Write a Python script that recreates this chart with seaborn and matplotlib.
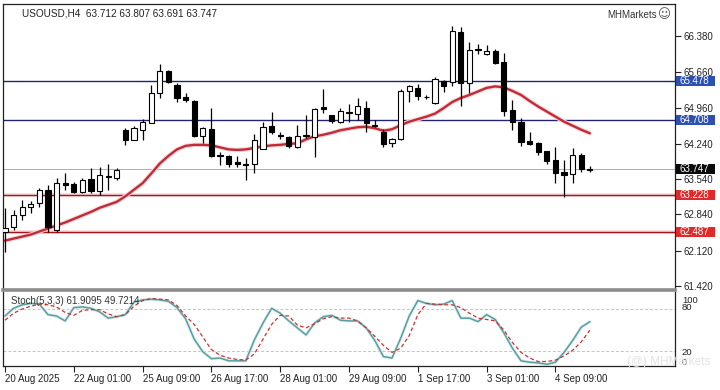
import numpy as np
import pandas as pd
import matplotlib
matplotlib.use("Agg")
import matplotlib.pyplot as plt
import matplotlib.transforms as mtransforms
from matplotlib.patches import Rectangle
import seaborn as sns

# ---------------- data ----------------
opens = [62.49, 62.59, 62.83, 62.98, 63.07, 63.33, 62.53, 63.46, 63.44, 63.29,
         63.54, 63.31, 63.59, 63.56, 64.51, 64.32, 64.51, 64.66, 65.24, 65.69,
         65.41, 65.16, 65.10, 64.40, 64.53, 64.02, 63.99, 63.87, 63.84, 63.84,
         64.13, 64.59, 64.42, 64.38, 64.18, 64.40, 64.37, 64.97, 64.81, 64.68,
         64.85, 64.83, 64.96, 64.60, 64.48, 64.25, 64.33, 65.28, 65.34, 65.17,
         65.06, 65.49, 65.47, 66.45, 65.45, 66.13, 66.02, 66.09, 65.86, 64.91,
         64.68, 64.30, 64.25, 64.09, 63.92, 63.68, 63.64, 64.02, 63.712]
highs = [62.97, 62.93, 63.13, 63.11, 63.36, 63.42, 63.56, 63.66, 63.49, 63.56,
         63.76, 63.79, 63.85, 63.77, 64.55, 64.59, 64.73, 65.41, 65.82, 65.71,
         65.44, 65.24, 65.11, 64.58, 64.95, 64.08, 64.02, 64.00, 63.95, 64.44,
         64.68, 64.88, 64.48, 64.40, 64.61, 64.81, 64.95, 65.32, 64.81, 64.95,
         65.03, 65.14, 65.09, 64.71, 64.53, 64.35, 65.32, 65.41, 65.43, 65.21,
         65.57, 65.50, 66.57, 66.55, 66.27, 66.22, 66.20, 66.12, 66.04, 65.11,
         64.75, 64.48, 64.27, 64.10, 64.18, 63.91, 64.15, 64.06, 63.807]
lows = [62.10, 62.53, 62.73, 62.86, 62.99, 62.50, 62.50, 63.33, 63.26, 63.27,
        63.26, 63.23, 63.33, 63.52, 64.22, 64.32, 64.32, 64.66, 65.14, 65.44,
        65.08, 65.08, 64.37, 64.25, 63.98, 63.82, 63.79, 63.79, 63.52, 63.66,
        64.13, 64.44, 64.33, 64.15, 64.15, 64.35, 63.98, 64.86, 64.66, 64.65,
        64.68, 64.71, 64.48, 64.57, 64.18, 64.18, 64.32, 65.08, 65.12, 65.13,
        65.04, 65.27, 65.39, 64.99, 65.24, 66.02, 66.01, 65.82, 64.79, 64.51,
        64.20, 64.22, 64.02, 63.84, 63.47, 63.19, 63.46, 63.69, 63.691]
closes = [62.57, 62.83, 62.99, 63.05, 63.33, 62.60, 63.46, 63.43, 63.29, 63.52,
          63.31, 63.62, 63.61, 63.72, 64.32, 64.55, 64.68, 65.24, 65.69, 65.47,
          65.14, 65.12, 64.39, 64.55, 63.99, 64.00, 63.85, 63.85, 63.82, 64.32,
          64.57, 64.48, 64.40, 64.19, 64.39, 64.42, 64.94, 64.94, 64.70, 64.90,
          64.87, 64.99, 64.65, 64.62, 64.24, 64.34, 65.28, 65.38, 65.18, 65.16,
          65.52, 65.39, 66.47, 65.45, 66.10, 66.11, 66.09, 65.84, 64.90, 64.68,
          64.28, 64.24, 64.07, 63.90, 63.67, 63.63, 64.02, 63.74, 63.747]
ma_values = [62.32, 62.36, 62.40, 62.44, 62.50, 62.56, 62.62, 62.68, 62.75, 62.82,
             62.89, 62.97, 63.03, 63.09, 63.20, 63.33, 63.46, 63.65, 63.85, 64.00,
             64.13, 64.20, 64.22, 64.22, 64.21, 64.17, 64.13, 64.12, 64.13, 64.16,
             64.19, 64.21, 64.22, 64.24, 64.25, 64.33, 64.39, 64.42, 64.46, 64.51,
             64.54, 64.57, 64.58, 64.55, 64.50, 64.53, 64.61, 64.68, 64.73, 64.78,
             64.84, 64.95, 65.07, 65.15, 65.21, 65.28, 65.35, 65.38, 65.36, 65.29,
             65.21, 65.09, 64.98, 64.88, 64.78, 64.68, 64.60, 64.52, 64.45]
stoch_k = [70, 81, 86, 88, 87, 72, 70, 63, 82, 83,
           81, 76, 67, 69, 72, 90, 93, 94, 93, 91,
           82, 66, 37, 19, 9, 10, 6, 6, 6, 36,
           60, 81, 74, 63, 53, 43, 60, 69, 71, 64,
           63, 63, 53, 35, 12, 10, 38, 70, 92, 88,
           86, 87, 92, 67, 67, 62, 72, 65, 46, 24,
           6, 4, 3, 1, 4, 18, 35, 54, 61.9095]
stoch_d = [64, 74, 80, 84, 87, 86, 83, 75, 71, 78,
           79, 79, 73, 69, 72, 84, 92, 95, 94, 93,
           85, 70, 58, 40, 22, 14, 10, 8, 7, 16,
           37, 58, 71, 70, 57, 53, 59, 66, 69, 67,
           67, 63, 53, 41, 28, 18, 24, 42, 72, 88,
           87, 86, 86, 82, 74, 67, 65, 63, 50, 32,
           18, 10, 5, 5, 7, 13, 21, 33, 49.7214]
price_ticks = [66.380, 65.660, 64.960, 64.240, 63.540, 62.840, 62.120, 61.420]
time_tick_idx = [0, 8, 16, 24, 32, 40, 48, 56, 64]
time_tick_labels = ["20 Aug 2025", "22 Aug 01:00", "25 Aug 09:00", "26 Aug 17:00",
                    "28 Aug 01:00", "29 Aug 09:00", "1 Sep 17:00", "3 Sep 01:00",
                    "4 Sep 09:00"]
blue_levels = [65.478, 64.708]
red_levels = [63.228, 62.487]
current_price = 63.747

# ---------------- style ----------------
sns.set_style("white")
plt.rcParams['font.family'] = ['Liberation Sans', 'DejaVu Sans']

W, H = 720, 390
fig = plt.figure(figsize=(W / 100, H / 100), dpi=100)
fig.patch.set_facecolor("white")


def box(l, t, r, b):
    return [l / W, 1 - b / H, (r - l) / W, (b - t) / H]


ax = fig.add_axes(box(3, 4, 675, 290))
ax2 = fig.add_axes(box(3, 292, 675, 366))

n = len(opens)
idx = np.arange(n)
o = np.array(opens); c = np.array(closes)
hi = np.array(highs); lo = np.array(lows)

XMIN, XMAX = -0.23, 77.9
ax.set_xlim(XMIN, XMAX)
ax.set_ylim(61.34, 67.015)

# level lines
for lv in blue_levels:
    ax.axhline(lv, color="#24246e", lw=1.0, zorder=1)
for lv in red_levels:
    ax.axhline(lv, color="#f6dada", lw=2.6, zorder=1)
    ax.axhline(lv, color="#a8141c", lw=1.0, zorder=1)
ax.axhline(current_price, color="#a0a0a0", lw=0.6, zorder=1)

# moving average
df_ma = pd.DataFrame({"i": idx, "ma": ma_values})
sns.lineplot(data=df_ma, x="i", y="ma", ax=ax, color="#f6d6d8", lw=3.2, zorder=2)
sns.lineplot(data=df_ma, x="i", y="ma", ax=ax, color="#c42a35", lw=1.7, zorder=2)

# candles
ax.vlines(idx, lo, hi, color="black", lw=0.9, zorder=3)
bottoms = np.minimum(o, c)
heights = np.maximum(np.abs(c - o), 0.012)
colors = ["white" if cc >= oo else "black" for oo, cc in zip(o, c)]
ax.bar(idx, heights, bottom=bottoms, width=0.6, color=colors,
       edgecolor="black", linewidth=0.8, zorder=4)

# axes styling (main)
ax.yaxis.tick_right()
ax.set_yticks(price_ticks)
ax.set_yticklabels([f"{v:.3f}" for v in price_ticks])
ax.tick_params(axis="y", direction="out", length=4, width=0.8, pad=2,
               labelsize=7, colors="#222222", right=True, left=False)
ax.set_xticks([])
ax.set_xlabel(""); ax.set_ylabel("")
for s in ["left", "right", "top"]:
    ax.spines[s].set_color("#222222"); ax.spines[s].set_linewidth(0.9)
ax.spines["bottom"].set_color("#8c8c8c"); ax.spines["bottom"].set_linewidth(2.6)

# price label boxes on the right axis
bt = mtransforms.blended_transform_factory(ax.transAxes, ax.transData)
px_x = 1.0 / 672.0
pp = (67.015 - 61.34) / 286.0  # price per pixel
for lv, fc in [(65.478, "#2d50b0"), (64.708, "#2d50b0"),
               (current_price, "#0a0a0a"), (63.228, "#e02a2a"), (62.487, "#e02a2a")]:
    ax.add_patch(Rectangle((1.0 + 1 * px_x, lv - 5 * pp), 39 * px_x, 10 * pp,
                           transform=bt, facecolor=fc, edgecolor="none",
                           clip_on=False, zorder=6))
    ax.text(1.0 + 4 * px_x, lv, f"{lv:.3f}", transform=bt, color="white",
            fontsize=7, ha="left", va="center", clip_on=False, zorder=7)

# title and brand
fig.text(22 / W, 1 - 14 / H, "USOUSD,H4  63.712 63.807 63.691 63.747",
         fontsize=7.2, color="#222222", ha="left", va="center")
fig.text(657 / W, 1 - 15 / H, "MHMarkets", fontsize=7, color="#333333",
         ha="right", va="center")
fig.text(664 / W, 1 - 15 / H, "\u263A", fontsize=9, color="#555555",
         ha="center", va="center", family=["DejaVu Sans"])

# ---------------- stochastic panel ----------------
ax2.set_xlim(XMIN, XMAX)
ax2.set_ylim(-1.4, 104.3)
for lv in [80, 20]:
    ax2.axhline(lv, color="#c4c4c4", lw=0.7, ls=(0, (3, 2)), zorder=1)
df_st = pd.DataFrame({"i": idx, "k": stoch_k, "d": stoch_d})
sns.lineplot(data=df_st, x="i", y="k", ax=ax2, color="#deeeee", lw=2.4, zorder=2)
sns.lineplot(data=df_st, x="i", y="k", ax=ax2, color="#5a9ea0", lw=1.1, zorder=3)
sns.lineplot(data=df_st, x="i", y="d", ax=ax2, color="#d03030", lw=0.9, zorder=3,
             linestyle=(0, (3, 2)))
ax2.set_xlabel(""); ax2.set_ylabel("")
ax2.text(8 / 672, 1 - 9 / 74, "Stoch(5,3,3) 61.9095 49.7214", transform=ax2.transAxes,
         fontsize=7, color="#333333", ha="left", va="center", zorder=5)

ax2.yaxis.tick_right()
ax2.set_yticks([94.0, 83.5, 19.3, 5.7])
ax2.set_yticklabels(["100", "80", "20", "0"])
ax2.tick_params(axis="y", direction="out", length=0, pad=5, labelsize=6.8,
                colors="#222222", right=True, left=False)
ax2.set_xticks(time_tick_idx)
ax2.set_xticklabels(time_tick_labels)
ax2.tick_params(axis="x", direction="out", length=4, width=0.8, pad=1.5,
                labelsize=7, colors="#222222", bottom=True)
for lbl in ax2.get_xticklabels():
    lbl.set_horizontalalignment("left")
for s in ["left", "right", "bottom"]:
    ax2.spines[s].set_color("#222222"); ax2.spines[s].set_linewidth(0.9)
ax2.spines["top"].set_visible(False)

# faint watermark
fig.text(710 / W, 1 - 362 / H, "(@) MHMarkets", fontsize=8.5, color="#e4e4e4",
         ha="right", va="center", zorder=0)

fig.savefig("out.png", dpi=100, facecolor="white")
